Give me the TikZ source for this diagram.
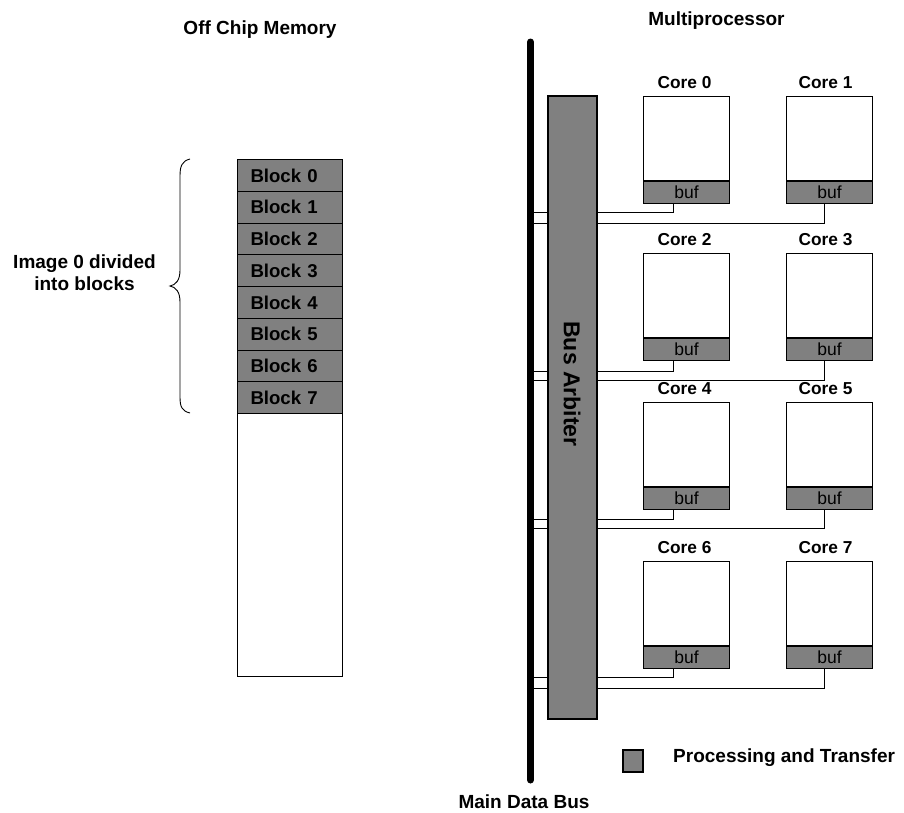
\documentclass[tikz,border=0pt]{standalone}
\usepackage{fontspec}
\setmainfont{Liberation Sans}
\begin{document}
\begin{tikzpicture}[x=1pt,y=-1pt,
  title/.style={font=\fontsize{19}{22}\selectfont\bfseries, inner sep=0pt, align=center},
  corelbl/.style={font=\fontsize{17.3}{20}\selectfont\bfseries, inner sep=0pt},
  corebox/.style={draw, line width=1.1pt, fill=white, minimum width=86pt, minimum height=84pt, inner sep=0pt, anchor=north west},
  bufbox/.style={draw, line width=1.1pt, fill=black!50, minimum width=86pt, minimum height=22pt, inner sep=0pt, anchor=north, font=\fontsize{17.5}{20}\selectfont},
  blockbox/.style={draw, line width=1pt, fill=black!50, minimum width=105pt, minimum height=31.75pt, inner xsep=13pt, inner ysep=0pt, text width=79pt, align=left, anchor=north west, font=\fontsize{18.6}{20}\selectfont\bfseries},
  wire/.style={line width=0.9pt},
]
\useasboundingbox (0,0) rectangle (904,812);

% titles
\node[title] (offchip) at (260,30) {Off Chip Memory};
\node[title] (multi) at (716.5,21) {Multiprocessor};
\node[title] (mainbus) at (524,802) {Main Data Bus};

% memory column
\foreach \i in {0,...,7} {
  \node[blockbox] (block\i) at (237,{159+31.75*\i}) {\raisebox{-2pt}{Block \i}};
}
\node[draw, line width=1pt, fill=white, minimum width=105pt, minimum height=263pt, inner sep=0pt, anchor=north west] (memrest) at (237,413) {};

% brace
\draw[line width=0.9pt] (190,159) .. controls (182,161) and (180,166) .. (180,176)
  -- (180,270) .. controls (180,280) and (176,285) .. (170,286)
  .. controls (176,287) and (180,292) .. (180,302)
  -- (180,397) .. controls (180,407) and (182,411) .. (190,413);
\node[title] (imglbl) at (84.5,273) {Image 0 divided\\into blocks};

% cores
\foreach \r/\t/\wl/\wr in {0/96/212/223, 1/253/371/380, 2/402/519/528, 3/561/677/688} {
  \pgfmathtruncatemacro{\a}{2*\r}
  \pgfmathtruncatemacro{\b}{2*\r+1}
  \node[corebox] (core\a) at (643,\t) {};
  \node[bufbox] (buf\a) at (core\a.south) {buf};
  \node[corelbl] (lbl\a) at ([xshift=-2pt,yshift=13pt]core\a.north) {Core \a};
  \node[corebox] (core\b) at (786,\t) {};
  \node[bufbox] (buf\b) at (core\b.south) {buf};
  \node[corelbl] (lbl\b) at ([xshift=-4pt,yshift=13pt]core\b.north) {Core \b};
  \coordinate (w\a) at (531,\wl);
  \coordinate (w\b) at (531,\wr);
  \draw[wire] ([xshift=-13pt]buf\a.south) |- (w\a);
  \draw[wire] ([xshift=-5pt]buf\b.south) |- (w\b);
}

% bus arbiter
\node[draw, line width=1.1pt, fill=black!50, minimum width=49pt, minimum height=623pt, inner sep=0pt] (arbiter) at (572.5,407.5) {};
\node[font=\fontsize{23}{26}\selectfont\bfseries, rotate=-90, inner sep=0pt] (arbtext) at (572,384) {Bus Arbiter};

% main data bus
\coordinate (bustop) at (530.5,42);
\coordinate (busbot) at (530.5,780);
\draw[line width=7pt, line cap=round] (bustop) -- (busbot);

% legend
\node[draw, line width=1.1pt, fill=black!50, minimum width=20pt, minimum height=22pt, inner sep=0pt] (legendbox) at (633,761) {};
\node[title, anchor=west] (legendtext) at (673,758) {Processing and Transfer};
\end{tikzpicture}
\end{document}
